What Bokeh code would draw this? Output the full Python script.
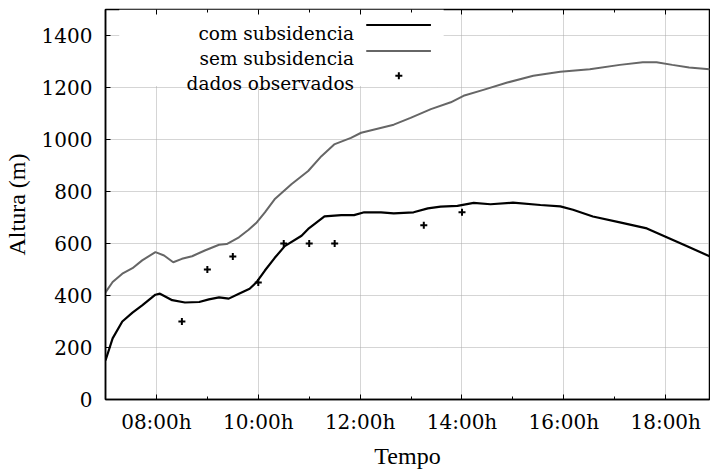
from bokeh.plotting import figure
from bokeh.models import FixedTicker, LinearAxis, Range1d
from bokeh.core.properties import value
from bokeh.embed import file_html
from bokeh.resources import INLINE

# ---- data (hours of day, height in m) ----
hora_com = [7.0, 7.14, 7.33, 7.53, 7.72, 7.98, 8.07, 8.31, 8.56, 8.84, 9.03, 9.23, 9.42,
            9.62, 9.83, 9.97, 10.13, 10.32, 10.52, 10.85, 10.98, 11.30, 11.63, 11.88,
            12.08, 12.41, 12.66, 13.05, 13.33, 13.58, 13.91, 14.23, 14.56, 15.0, 15.54,
            15.93, 16.18, 16.57, 17.10, 17.63, 18.02, 18.41, 18.86, 19.0]
altura_com = [150, 235, 300, 334, 362, 403, 407, 382, 373, 375, 385, 393, 388,
              407, 426, 452, 496, 544, 590, 630, 656, 704, 709, 709,
              720, 720, 716, 720, 735, 742, 745, 756, 751, 757, 748,
              743, 730, 704, 681, 658, 624, 590, 551, 540]

hora_sem = [7.0, 7.14, 7.33, 7.53, 7.72, 7.98, 8.15, 8.33, 8.50, 8.70, 8.95, 9.23, 9.38,
            9.62, 9.81, 9.97, 10.13, 10.32, 10.65, 10.98, 11.24, 11.49, 11.82, 12.02,
            12.66, 12.99, 13.39, 13.78, 14.03, 14.42, 14.89, 15.40, 15.93, 16.51, 17.10,
            17.55, 17.82, 18.13, 18.46, 18.86, 19.0]
altura_sem = [412, 452, 484, 505, 535, 567, 554, 528, 541, 551, 573, 595, 598,
              624, 653, 681, 720, 770, 828, 879, 936, 981, 1006, 1026,
              1057, 1083, 1117, 1143, 1168, 1191, 1219, 1245, 1261, 1270, 1287,
              1297, 1297, 1287, 1277, 1270, 1268]

hora_obs = [8.5, 9.0, 9.5, 10.0, 10.5, 11.0, 11.5, 13.25, 14.0]
altura_obs = [300, 500, 550, 450, 600, 600, 600, 670, 720]

x_major = [8, 10, 12, 14, 16, 18]
x_minor = [7, 9, 11, 13, 15, 17, 19]
x_labels = ["08:00h", "10:00h", "12:00h", "14:00h", "16:00h", "18:00h"]
y_ticks = [0, 200, 400, 600, 800, 1000, 1200, 1400]

legend_labels = ["com subsidencia", "sem subsidencia", "dados observados"]

FONT = "Liberation Serif"
TICK_FONT = "DejaVu Serif"
BLACK = "#000000"
GRAY = "#666666"

p = figure(width=710, height=471, output_backend="svg", toolbar_location=None,
           x_range=Range1d(7, 18.86), y_range=Range1d(0, 1500),
           min_border_left=103, min_border_right=1, min_border_top=9, min_border_bottom=69,
           x_axis_label="Tempo", y_axis_label="Altura (m)")
p.background_fill_color = "white"
p.border_fill_color = "white"
p.outline_line_color = BLACK
p.outline_line_width = 1.5
p.outline_line_alpha = 1.0

# axes
p.xaxis.ticker = FixedTicker(ticks=x_major, minor_ticks=x_minor)
p.xaxis.major_label_overrides = {float(k): v for k, v in zip(x_major, x_labels)}
p.yaxis.ticker = FixedTicker(ticks=y_ticks)
for ax in (p.xaxis[0], p.yaxis[0]):
    ax.axis_line_color = BLACK
    ax.axis_line_width = 1.5
    ax.major_tick_in = 5
    ax.major_tick_out = 0
    ax.minor_tick_in = 3
    ax.minor_tick_out = 0
    ax.major_tick_line_color = BLACK
    ax.minor_tick_line_color = BLACK
    ax.major_label_text_font = TICK_FONT
    ax.major_label_text_font_size = "20px"
    ax.major_label_text_color = BLACK
    ax.major_label_text_line_height = 1.0
    ax.axis_label_text_font = FONT
    ax.axis_label_text_font_size = "24px"
    ax.axis_label_text_font_style = "normal"
    ax.axis_label_text_color = BLACK
    ax.axis_label_text_line_height = 1.0
p.yaxis.minor_tick_line_color = None
p.xaxis.major_label_standoff = 10
p.xaxis.axis_label_standoff = 6
p.yaxis.major_label_standoff = 13
p.yaxis.axis_label_standoff = 9

top_axis = LinearAxis(ticker=FixedTicker(ticks=x_major, minor_ticks=x_minor),
                      major_label_text_color=None, major_label_standoff=0,
                      axis_line_color=None, major_tick_in=5, major_tick_out=0,
                      minor_tick_in=3, minor_tick_out=0,
                      major_tick_line_color=BLACK, minor_tick_line_color=BLACK)
p.add_layout(top_axis, "above")

p.xgrid.grid_line_color = "#aaaaaa"
p.xgrid.grid_line_dash = "1 1"
p.ygrid.grid_line_color = "#aaaaaa"
p.ygrid.grid_line_dash = "1 1"

# legend background
p.quad(left=[7.27], right=[13.64], bottom=[1206], top=[1500],
       fill_color="white", line_color=None)

# data
p.line(hora_sem, altura_sem, line_color=GRAY, line_width=2)
p.line(hora_com, altura_com, line_color=BLACK, line_width=2.2)
p.scatter(hora_obs, altura_obs, marker="cross", size=7, line_width=2, color=BLACK)

# legend (gnuplot style: text, then sample)
p.text(x=[11.88] * 3, y=[1409, 1312, 1216], text=legend_labels,
       text_align="right", text_baseline="alphabetic",
       text_font=value(TICK_FONT), text_font_size="18.5px", text_color=BLACK)
p.segment(x0=[12.12, 12.12], y0=[1440, 1340], x1=[13.39, 13.39], y1=[1440, 1340],
          line_color=[BLACK, GRAY], line_width=2)
p.scatter([12.76], [1245], marker="cross", size=7, line_width=2, color=BLACK)

open("out.html", "w").write(file_html(p, INLINE))
